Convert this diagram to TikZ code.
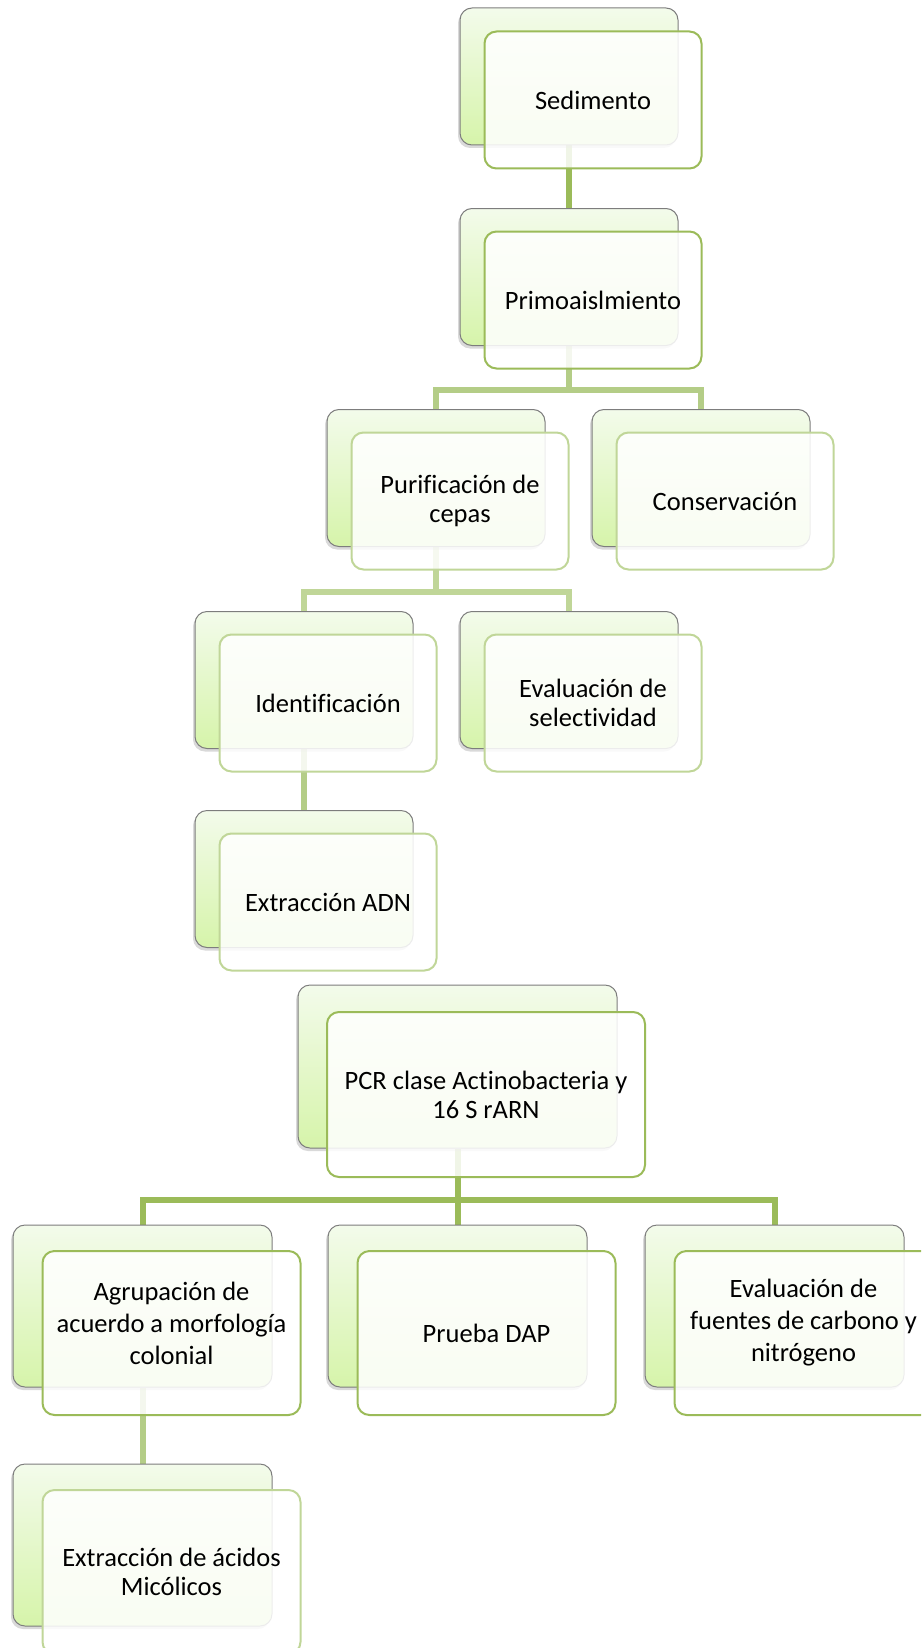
\documentclass[tikz,border=0pt]{standalone}
\usepackage{fontspec}
\setmainfont[Ligatures=NoCommon]{Carlito}
\usetikzlibrary{shadows,backgrounds}

\definecolor{leafTop}{RGB}{243,251,235}
\definecolor{leafBot}{RGB}{214,244,170}
\definecolor{boxGray}{RGB}{125,125,125}
\definecolor{leafDark}{RGB}{155,187,89}
\definecolor{leafLight}{RGB}{192,214,152}
\definecolor{leafMid}{RGB}{180,205,135}

\tikzset{
	backbox/.style={draw=boxGray, line width=1pt, rounded corners=12pt,
		top color=leafTop, bottom color=leafBot,
		minimum width=218pt, minimum height=137pt,
		drop shadow={shadow xshift=-2pt, shadow yshift=-3pt, opacity=0.3}},
	frontbox/.style={draw=#1, line width=2pt, rounded corners=12pt,
		fill=white, fill opacity=0.86, text opacity=1,
		minimum width=217pt, minimum height=137pt, align=center,
		font=\fontsize{26.5}{29}\selectfont},
	bigback/.style={backbox, minimum width=259pt, minimum height=162pt},
	bigfront/.style={frontbox=#1, minimum width=258pt, minimum height=164pt},
	stagetext/.style={align=center, font=\fontsize{26.5}{32}\selectfont},
	conn/.style={draw=#1, line width=6pt}
}

\begin{document}
\begin{tikzpicture}[x=1pt,y=-1pt]
	\clip (0,0) rectangle (921,1648);
	% first column
	\node[backbox] (sedB) at (569,76.5) {};
	\node[frontbox=leafDark] (sedF) at (593,100) {Sedimento};
	\node[backbox] (primoB) at (569,277) {};
	\node[frontbox=leafDark] (primoF) at (593,300) {Primoaislmiento};
	\node[backbox] (purifB) at (436,478) {};
	\node[frontbox=leafLight] (purifF) at (460,501) {Purificación de\\cepas};
	\node[backbox] (consB) at (701,478) {};
	\node[frontbox=leafLight] (consF) at (725,501) {Conservación};
	\node[backbox] (identB) at (304,680) {};
	\node[frontbox=leafLight] (identF) at (328,703) {Identificación};
	\node[backbox] (selB) at (569,680) {};
	\node[frontbox=leafLight] (selF) at (593,703) {Evaluación de\\selectividad};
	\node[backbox] (adnB) at (304,879) {};
	\node[frontbox=leafLight] (adnF) at (328,902) {Extracción ADN};
	% second tree
	\node[backbox, minimum width=319pt, minimum height=163pt] (pcrB) at (457.5,1066.5) {};
	\node[frontbox=leafDark, minimum width=318pt, minimum height=165pt] (pcrF) at (486,1094.5) {PCR clase Actinobacteria y\\16 S rARN};
	\node[bigback] (agrB) at (142.5,1306) {};
	\node[bigfront=leafDark] (agrF) at (171.5,1333) {};
	\node[stagetext] (agrT) at ([yshift=10pt]agrF.center) {Agrupación de\\acuerdo a morfología\\colonial};
	\node[bigback] (dapB) at (457.5,1306) {};
	\node[bigfront=leafDark] (dapF) at (486.5,1333) {Prueba DAP};
	\node[bigback] (evfB) at (774.5,1306) {};
	\node[bigfront=leafDark] (evfF) at (803.5,1333) {};
	\node[stagetext] (evfT) at ([yshift=10pt]evfF.center) {Evaluación de\\fuentes de carbono y\\nitrógeno};
	\node[bigback] (micB) at (142.5,1545) {};
	\node[bigfront=leafLight] (micF) at (171.5,1572) {Extracción de ácidos\\Micólicos};

	\coordinate (busA) at (0,390);
	\coordinate (busB) at (0,592);
	\coordinate (busC) at (0,1200);
	\begin{scope}[on background layer]
		\draw[conn=leafDark] (sedB.south) -- (primoB.north);
		\draw[conn=leafMid] (primoB.south) -- (primoB.south |- busA) -| (purifB.north);
		\draw[conn=leafMid] (primoB.south |- busA) -| (consB.north);
		\draw[conn=leafLight] (purifB.south) -- (purifB.south |- busB) -| (identB.north);
		\draw[conn=leafLight] (purifB.south |- busB) -| (selB.north);
		\draw[conn=leafMid] (identB.south) -- (adnB.north);
		\draw[conn=leafDark] (pcrB.south) -- (dapB.north);
		\draw[conn=leafDark] (pcrB.south |- busC) -| (agrB.north);
		\draw[conn=leafDark] (pcrB.south |- busC) -| (evfB.north);
		\draw[conn=leafMid] (agrB.south) -- (micB.north);
	\end{scope}
\end{tikzpicture}
\end{document}
